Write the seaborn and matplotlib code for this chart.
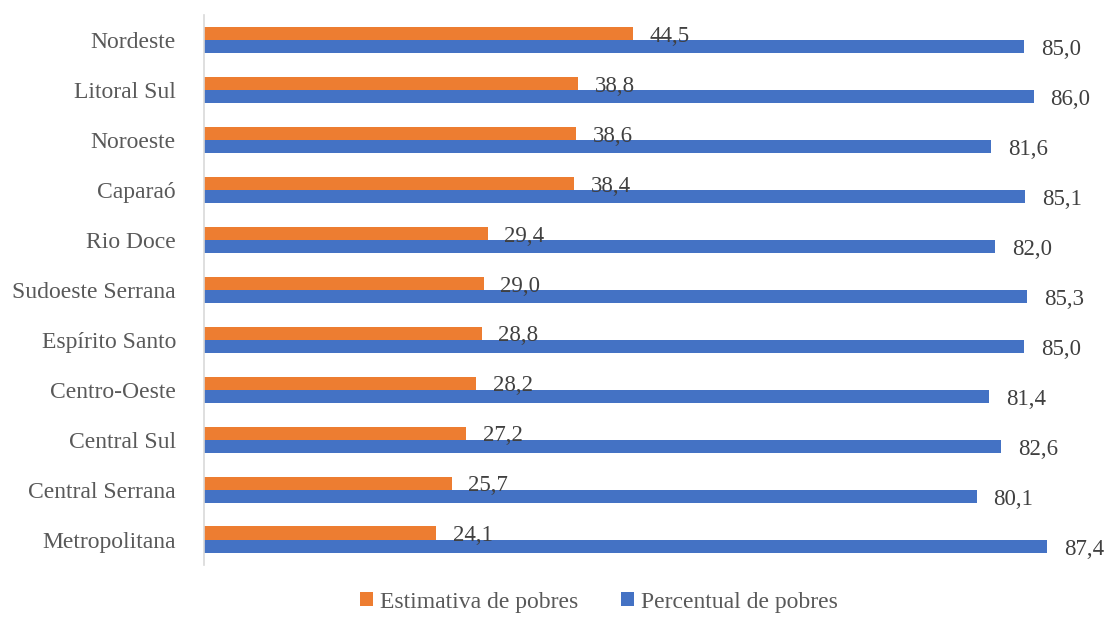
import pandas as pd
import seaborn as sns
import matplotlib.pyplot as plt

# Data
regioes = ["Nordeste", "Litoral Sul", "Noroeste", "Caparaó", "Rio Doce",
           "Sudoeste Serrana", "Espírito Santo", "Centro-Oeste", "Central Sul",
           "Central Serrana", "Metropolitana"]
estimativa = [44.5, 38.8, 38.6, 38.4, 29.4, 29.0, 28.8, 28.2, 27.2, 25.7, 24.1]
percentual = [85.0, 86.0, 81.6, 85.1, 82.0, 85.3, 85.0, 81.4, 82.6, 80.1, 87.4]
series = ["Estimativa de pobres", "Percentual de pobres"]
cores = ["#ED7D31", "#4472C4"]

df = pd.DataFrame({
    "regiao": regioes * 2,
    "valor": estimativa + percentual,
    "serie": [series[0]] * len(regioes) + [series[1]] * len(regioes),
})

sns.set_style("white")
plt.rcParams["font.family"] = ["Liberation Serif", "DejaVu Serif"]

fig, ax = plt.subplots(figsize=(11.07, 6.24), dpi=100)
fig.subplots_adjust(left=0.184, right=0.995, top=0.976, bottom=0.095)

sns.barplot(data=df, y="regiao", x="valor", hue="serie", order=regioes,
            hue_order=series, palette=cores, orient="h", width=0.53,
            saturation=1, linewidth=0, ax=ax)

# value labels with decimal comma
for cont in ax.containers:
    for p in cont:
        w = p.get_width()
        ax.annotate(f"{w:.1f}".replace(".", ","),
                    (w, p.get_y() + p.get_height() / 2),
                    xytext=(12, -2), textcoords="offset points",
                    ha="left", va="center", fontsize=16.5, color="#404040")

ax.set_xlim(0, 93)
ax.set_xlabel("")
ax.set_ylabel("")
ax.set_xticks([])
ax.tick_params(axis="y", length=0, labelsize=17, labelcolor="#595959", pad=20)
for s in ["top", "right", "bottom"]:
    ax.spines[s].set_visible(False)
ax.spines["left"].set_color("#D9D9D9")
ax.spines["left"].set_linewidth(1.2)

ax.legend(loc="center", bbox_to_anchor=(0.44, -0.068), ncol=2,
          frameon=False, fontsize=17, handlelength=0.55, handleheight=0.55,
          handletextpad=0.3, columnspacing=1.8, labelcolor="#595959")

fig.savefig("out.png", dpi=100)
